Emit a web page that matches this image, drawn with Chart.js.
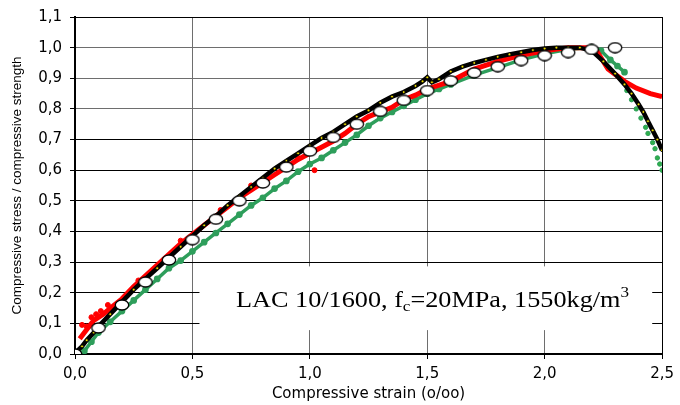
<!DOCTYPE html>
<html>
<head>
<meta charset="utf-8">
<script src="https://cdn.jsdelivr.net/npm/chart.js@4.4.1/dist/chart.umd.min.js"></script>
<style>
  html, body { margin: 0; padding: 0; background: #fff; }
  #wrap { width: 680px; height: 405px; }
</style>
</head>
<body>
<div id="wrap"><canvas id="chart" width="680" height="405"></canvas></div>
<script>
// model curve (open circles)
const modelStrain = [0, 0.1, 0.2, 0.3, 0.4, 0.5, 0.6, 0.7, 0.8, 0.9, 1.0, 1.1, 1.2,
  1.3, 1.4, 1.5, 1.6, 1.7, 1.8, 1.9, 2.0, 2.1, 2.2, 2.3];
const modelStress = [0, 0.085, 0.16, 0.235, 0.307, 0.373, 0.44, 0.5, 0.558, 0.61, 0.662,
  0.707, 0.75, 0.792, 0.828, 0.86, 0.892, 0.918, 0.938, 0.958, 0.974, 0.984, 0.994, 1.0];

// test 1 (black with yellow markers)
const blackStrain = [0.01, 0.03, 0.05, 0.08, 0.1, 0.15, 0.2, 0.25, 0.3, 0.35, 0.4, 0.45,
  0.5, 0.55, 0.6, 0.65, 0.7, 0.75, 0.8, 0.85, 0.9, 0.95, 1.0, 1.05, 1.1, 1.15, 1.2, 1.25,
  1.3, 1.35, 1.4, 1.45, 1.48, 1.5, 1.52, 1.55, 1.6, 1.65, 1.7, 1.75, 1.8, 1.85, 1.9, 1.95,
  2.0, 2.05, 2.1, 2.15, 2.2, 2.25, 2.3, 2.34, 2.37, 2.4, 2.42, 2.44, 2.46, 2.48, 2.5];
const blackStress = [0.01, 0.025, 0.045, 0.07, 0.09, 0.13, 0.17, 0.21, 0.245, 0.28, 0.315, 0.35,
  0.385, 0.42, 0.45, 0.485, 0.515, 0.545, 0.575, 0.605, 0.63, 0.655, 0.68, 0.705, 0.725, 0.75, 0.775, 0.795,
  0.82, 0.84, 0.855, 0.875, 0.89, 0.903, 0.887, 0.897, 0.922, 0.938, 0.95, 0.96, 0.97, 0.978, 0.985, 0.992,
  0.997, 1.0, 1.0, 1.0, 0.99, 0.955, 0.915, 0.88, 0.85, 0.815, 0.79, 0.76, 0.73, 0.7, 0.665];

// test 2 (red)
const redStrain = [0.02, 0.05, 0.08, 0.12, 0.16, 0.2, 0.25, 0.3, 0.35, 0.4, 0.45, 0.5, 0.55,
  0.6, 0.65, 0.7, 0.75, 0.8, 0.85, 0.9, 0.95, 1.0, 1.05, 1.1, 1.15, 1.2, 1.25, 1.3, 1.35,
  1.4, 1.45, 1.5, 1.6, 1.7, 1.8, 1.9, 2.0, 2.1, 2.2, 2.225, 2.27, 2.34, 2.39, 2.45, 2.5];
const redStress = [0.05, 0.08, 0.11, 0.13, 0.155, 0.18, 0.22, 0.255, 0.29, 0.325, 0.36, 0.39, 0.42,
  0.45, 0.48, 0.51, 0.535, 0.56, 0.585, 0.61, 0.635, 0.655, 0.675, 0.695, 0.72, 0.75, 0.775, 0.79, 0.805,
  0.83, 0.845, 0.865, 0.89, 0.93, 0.955, 0.975, 0.99, 1.0, 1.0, 0.985, 0.93, 0.89, 0.868, 0.85, 0.84];
const redLooseStrain = [0.03, 0.05, 0.07, 0.09, 0.11, 0.14, 0.27, 0.45, 0.62, 0.75, 0.95, 1.02];
const redLooseStress = [0.095, 0.09, 0.12, 0.13, 0.14, 0.16, 0.24, 0.37, 0.47, 0.55, 0.64, 0.6];

// test 3 (green)
const greenStrain = [0.04, 0.07, 0.1, 0.15, 0.2, 0.25, 0.3, 0.35, 0.4, 0.45, 0.5, 0.55, 0.6,
  0.65, 0.7, 0.75, 0.8, 0.85, 0.9, 0.95, 1.0, 1.05, 1.1, 1.15, 1.2, 1.25, 1.3, 1.35, 1.4,
  1.45, 1.5, 1.55, 1.6, 1.7, 1.8, 1.9, 2.0, 2.1, 2.2, 2.24, 2.28, 2.31, 2.34];
const greenStress = [0.01, 0.04, 0.07, 0.105, 0.14, 0.175, 0.21, 0.245, 0.28, 0.305, 0.335, 0.365, 0.395,
  0.425, 0.455, 0.485, 0.51, 0.54, 0.565, 0.595, 0.62, 0.64, 0.665, 0.69, 0.715, 0.745, 0.77, 0.79, 0.81,
  0.83, 0.85, 0.865, 0.88, 0.91, 0.935, 0.96, 0.98, 0.995, 1.0, 0.99, 0.96, 0.94, 0.92];
const greenTailStrain = [2.35, 2.37, 2.39, 2.41, 2.43, 2.44, 2.46, 2.47, 2.48, 2.49, 2.5];
const greenTailStress = [0.86, 0.83, 0.8, 0.77, 0.74, 0.72, 0.69, 0.67, 0.64, 0.62, 0.6];

const xTicks = [0, 0.5, 1.0, 1.5, 2.0, 2.5];
const yMax = 1.1;

function pts(xs, ys){ return xs.map((x, i) => ({x: x, y: ys[i]})); }
function comma(v){ return Number(v).toFixed(1).replace(".", ","); }

// open ellipse marker, a bit wider than tall like in the original
const ring = document.createElement("canvas");
ring.width = 16; ring.height = 12;
(function(){
  const c = ring.getContext("2d");
  c.beginPath();
  c.ellipse(8, 6, 6.7, 5, 0, 0, Math.PI * 2);
  c.fillStyle = "#fff"; c.fill();
  c.lineWidth = 1.3; c.strokeStyle = "#000"; c.stroke();
})();

const labelBox = {
  id: "labelBox",
  beforeDatasetsDraw(chart){
    const {ctx, scales: {x, y}} = chart;
    const l = x.getPixelForValue(0.53), r = x.getPixelForValue(2.458);
    const t = y.getPixelForValue(0.286), b = y.getPixelForValue(0.078);
    ctx.save();
    ctx.fillStyle = "#fff";
    ctx.fillRect(l, t, r - l, b - t);
    ctx.restore();
  },
  afterDatasetsDraw(chart){
    const {ctx, scales: {x, y}} = chart;
    const x0 = x.getPixelForValue(0.686), base = y.getPixelForValue(0.153);
    const big = "23px 'Liberation Serif', 'Times New Roman', serif";
    const small = "15px 'Liberation Serif', 'Times New Roman', serif";
    const parts = [
      ["LAC 10/1600, f", big, 0],
      ["c", small, 4],
      ["=20MPa, 1550kg/m", big, 0],
      ["3", small, -10]
    ];
    ctx.save();
    ctx.translate(x0, base);
    ctx.scale(1.14, 1);
    ctx.fillStyle = "#000";
    ctx.textBaseline = "alphabetic";
    let cx = 0;
    parts.forEach(p => {
      ctx.font = p[1];
      ctx.fillText(p[0], cx, p[2]);
      cx += ctx.measureText(p[0]).width;
    });
    ctx.restore();
  }
};

const gridColor = c => (c.tick && c.tick.value > 0.75 && c.tick.value < 1.05) ? "#6e6e6e" : "#000";

new Chart(document.getElementById("chart").getContext("2d"), {
  type: "scatter",
  data: {
    datasets: [
      {
        label: "model",
        data: pts(modelStrain, modelStress),
        showLine: false,
        pointStyle: ring,
        pointRadius: 6
      },
      {
        label: "test 1",
        data: pts(blackStrain, blackStress),
        showLine: true,
        borderColor: "#000",
        borderWidth: 4.5,
        pointRadius: 1.4,
        pointBackgroundColor: "#f0e000",
        pointBorderColor: "#000",
        pointBorderWidth: 0.8,
        tension: 0
      },
      {
        label: "test 2",
        data: pts(redStrain, redStress),
        showLine: true,
        borderColor: "#ff0000",
        borderWidth: 5,
        pointRadius: 0,
        tension: 0
      },
      {
        label: "test 2 loose",
        data: pts(redLooseStrain, redLooseStress),
        showLine: false,
        pointRadius: 2.5,
        pointBackgroundColor: "#ff0000",
        pointBorderColor: "#ff0000"
      },
      {
        label: "test 3",
        data: pts(greenStrain, greenStress),
        showLine: true,
        borderColor: "#2e9e5b",
        borderWidth: 3.5,
        pointRadius: 1.6,
        pointBackgroundColor: "#3bb54a",
        pointBorderColor: "#2e9e5b",
        tension: 0
      },
      {
        label: "test 3 tail",
        data: pts(greenTailStrain, greenTailStress),
        showLine: false,
        pointRadius: 2.2,
        pointBackgroundColor: "#2fb04a",
        pointBorderColor: "#2e9e5b"
      }
    ]
  },
  options: {
    responsive: false,
    animation: false,
    layout: { padding: { left: 0, right: 15, top: 15, bottom: 0 } },
    plugins: { legend: { display: false }, tooltip: { enabled: false } },
    scales: {
      x: {
        type: "linear",
        min: 0,
        max: 2.5,
        afterBuildTicks: s => { s.ticks = xTicks.map(v => ({value: v})); },
        afterFit: s => { s.height = 51; },
        border: { display: true, color: "#000", width: 2 },
        grid: { color: c => c.tick && c.tick.value >= 2.5 ? "#000" : "#6e6e6e", lineWidth: 1, drawTicks: true, tickLength: 5, tickColor: "#000" },
        ticks: {
          padding: 6,
          color: "#000",
          font: { family: "'DejaVu Sans', sans-serif", size: 15 },
          callback: v => comma(v)
        },
        title: {
          display: true,
          text: "Compressive strain (o/oo)",
          color: "#000",
          font: { family: "'DejaVu Sans', sans-serif", size: 15 },
          padding: { top: 0, bottom: 2 }
        }
      },
      y: {
        type: "linear",
        min: 0,
        max: yMax,
        ticks: {
          stepSize: 0.1,
          padding: 8,
          color: "#000",
          font: { family: "'DejaVu Sans', sans-serif", size: 15 },
          callback: v => comma(v)
        },
        afterFit: s => { s.width = 75; },
        border: { display: true, color: "#000", width: 2 },
        grid: { color: gridColor, lineWidth: 1, drawTicks: true, tickLength: 5, tickColor: "#000" },
        title: {
          display: true,
          text: "Compressive stress / compressive strength",
          color: "#000",
          font: { family: "'Liberation Sans', Arial, sans-serif", size: 13.5 },
          padding: { top: 9, bottom: 0 }
        }
      }
    }
  },
  plugins: [labelBox]
});
</script>
</body>
</html>
